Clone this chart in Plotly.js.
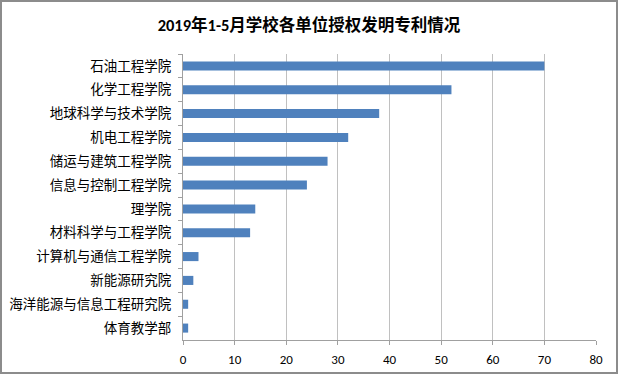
<!DOCTYPE html>
<html>
<head>
<meta charset="utf-8">
<script src="https://cdn.plot.ly/plotly-3.0.1.min.js"></script>
<style>
html,body{margin:0;padding:0;background:#fff;}
#wrap{position:relative;width:618px;height:374px;}
#chart{width:618px;height:374px;}
#frame{position:absolute;left:0;top:0;width:618px;height:374px;box-sizing:border-box;border:2px solid #8c8c8c;pointer-events:none;}
</style>
</head>
<body>
<div id="wrap"><div id="chart"></div><div id="frame"></div></div>
<script>
const categories = ["石油工程学院","化学工程学院","地球科学与技术学院","机电工程学院","储运与建筑工程学院","信息与控制工程学院","理学院","材料科学与工程学院","计算机与通信工程学院","新能源研究院","海洋能源与信息工程研究院","体育教学部"];
const values = [70, 52, 38, 32, 28, 24, 14, 13, 3, 2, 1, 1];
const xTicks = [0,10,20,30,40,50,60,70,80];
const titleText = "2019年1-5月学校各单位授权发明专利情况";

const font = "Calibri, Carlito, 'Noto Sans CJK SC', 'Microsoft YaHei', sans-serif";

Plotly.newPlot('chart', [{
  type: 'bar',
  orientation: 'h',
  y: categories,
  x: values,
  marker: {color: '#4F81BD', line: {width: 0}},
  hoverinfo: 'none'
}], {
  width: 618, height: 374,
  margin: {l: 183, r: 22, t: 54, b: 34},
  paper_bgcolor: '#fff', plot_bgcolor: '#fff',
  bargap: 0.62,
  showlegend: false,
  title: {text: '<b>' + titleText + '</b>', x: 0.5, xanchor: 'center', xref: 'container', y: 0.933, yanchor: 'middle',
          font: {family: font, size: 16.5, color: '#000'}},
  xaxis: {
    range: [0, 80], tickvals: xTicks, ticktext: xTicks.map(String),
    showgrid: true, gridcolor: '#c0c0c0', gridwidth: 1,
    zeroline: false, showline: true, linecolor: '#a0a0a0', linewidth: 1,
    ticks: 'outside', ticklen: 4, tickcolor: '#a0a0a0', ticklabelstandoff: 3,
    tickfont: {family: font, size: 13, color: '#000'}, fixedrange: true
  },
  yaxis: {
    type: 'category', autorange: 'reversed',
    showline: true, linecolor: '#a0a0a0', linewidth: 1,
    ticks: 'outside', ticklen: 4, tickcolor: '#a0a0a0', tickson: 'boundaries',
    showgrid: false, ticklabelstandoff: 8,
    tickfont: {family: font, size: 13.5, color: '#000'}, fixedrange: true
  }
}, {displayModeBar: false, staticPlot: true});
</script>
</body>
</html>
